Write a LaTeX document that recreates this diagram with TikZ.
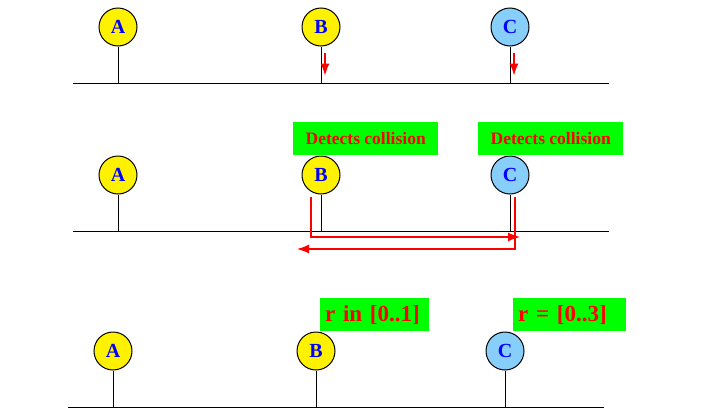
\documentclass[tikz,border=0pt]{standalone}
\usepackage{fontspec}
\setmainfont{Liberation Serif}
\usetikzlibrary{positioning,arrows.meta}
\definecolor{skyblue}{RGB}{135,206,250}

\begin{document}
\begin{tikzpicture}[x=1pt,y=-1pt,
  station/.style={circle,draw=black,line width=1pt,minimum size=38pt,inner sep=0pt,
    font=\fontsize{20}{20}\selectfont\bfseries,text=blue},
  wire/.style={draw=black,line width=1pt},
  sig/.style={draw=red,line width=1.3pt,-{Latex[length=12pt,width=9pt]}},
  note/.style={fill=green,text=red,minimum height=33pt,inner ysep=0pt,anchor=south west}]
  \useasboundingbox (0,0) rectangle (707,418);
  % three snapshots of the same bus
  \foreach \r/\dx/\y in {1/0/27,2/0/175,3/-5/351} {
    \coordinate (busL\r) at (73+\dx,\y+56);
    \coordinate (busR\r) at (609+\dx,\y+56);
    \draw[wire] (busL\r) -- (busR\r);
    \foreach \s/\sx/\col in {A/118/yellow,B/321/yellow,C/510/skyblue} {
      \node[station,fill=\col] (\s\r) at (\sx+\dx,\y) {\s};
      \draw[wire] (\s\r.south) -- (\s\r.south |- busL\r);
    }
  }
  % B and C start sending
  \draw[sig] ([xshift=4pt,yshift=-6pt]B1.south) -- ++(0,23);
  \draw[sig] ([xshift=4pt,yshift=-6pt]C1.south) -- ++(0,23);
  % both see the collision
  \coordinate (hitC) at (520,237);
  \coordinate (hitB) at (297,249);
  \draw[sig] ([xshift=-10pt,yshift=-2pt]B2.south) |- (hitC);
  \draw[sig] ([xshift=5pt,yshift=-2pt]C2.south) |- (hitB);
  \node[note,minimum width=145pt,font=\fontsize{17.5}{20}\selectfont\bfseries]
    (detB) at ([xshift=-28pt]B2.north) {Detects collision};
  \node[note,minimum width=145pt,font=\fontsize{17.5}{20}\selectfont\bfseries]
    (detC) at ([xshift=-32pt]C2.north) {Detects collision};
  % backoff choice
  \node[note,text width=99pt,inner xsep=5pt,align=left,font=\fontsize{23}{25}\selectfont\bfseries]
    (waitB) at ([xshift=4pt]B3.north) {r in [0..1]};
  \node[note,text width=103pt,inner xsep=5pt,align=left,font=\fontsize{23}{25}\selectfont\bfseries]
    (waitC) at ([xshift=8pt]C3.north) {r = [0..3]};
\end{tikzpicture}
\end{document}
